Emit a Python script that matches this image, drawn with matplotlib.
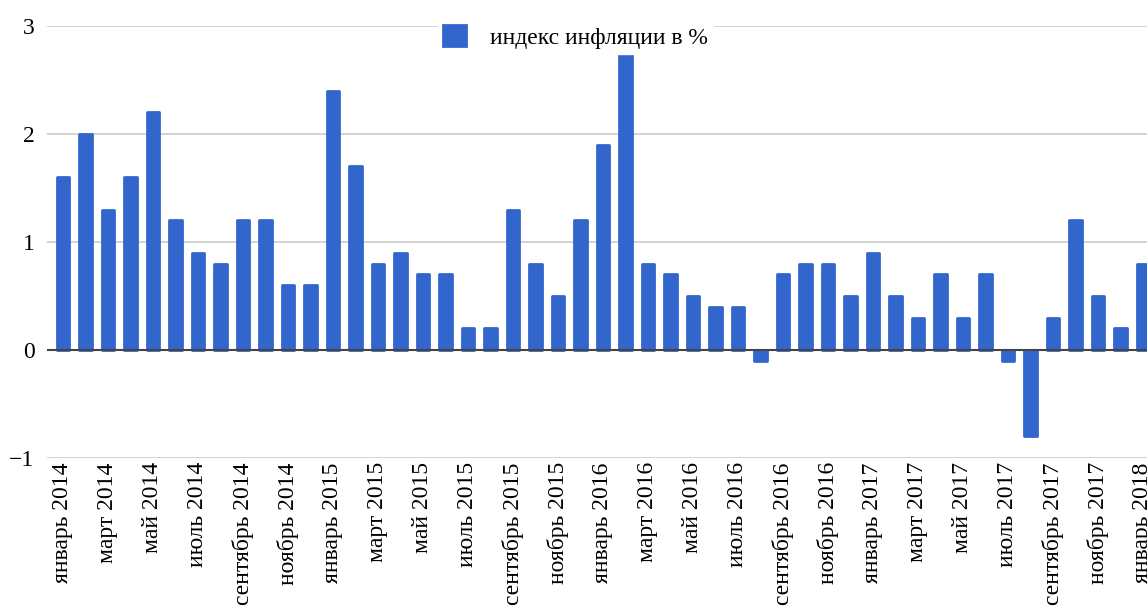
import numpy as np
import matplotlib
matplotlib.use("Agg")
import matplotlib.pyplot as plt

plt.rcParams['font.family'] = ['Liberation Serif', 'DejaVu Serif']

months = ["январь", "февраль", "март", "апрель", "май", "июнь",
          "июль", "август", "сентябрь", "октябрь", "ноябрь", "декабрь"]
years = [2014, 2015, 2016, 2017, 2018]
labels = [m + " " + str(y) for y in years for m in months][:49]

inflation = [1.6, 2.0, 1.3, 1.6, 2.2, 1.2, 0.9, 0.8, 1.2, 1.2, 0.6, 0.6,
             2.4, 1.7, 0.8, 0.9, 0.7, 0.7, 0.2, 0.2, 1.3, 0.8, 0.5, 1.2,
             1.9, 3.1, 0.8, 0.7, 0.5, 0.4, 0.4, -0.1, 0.7, 0.8, 0.8, 0.5,
             0.9, 0.5, 0.3, 0.7, 0.3, 0.7, -0.1, -0.8, 0.3, 1.2, 0.5, 0.2,
             0.8]

blue = '#3366cc'
fs = 17

fig = plt.figure(figsize=(11.47, 6.1), dpi=100)
ax = fig.add_axes([47/1147, 1 - 458/610, 1 - 47/1147, (458 - 26)/610])

x = np.arange(len(inflation))
bars = ax.bar(x, inflation, width=0.55, color=blue, edgecolor=blue,
              linewidth=2, label='индекс инфляции в %', zorder=2)
for b in bars:
    b.set_joinstyle('round')

ax.set_xlim(-0.71, 48.18)
ax.set_ylim(-1, 3)
ax.set_yticks([-1, 0, 1, 2, 3])
ax.set_yticklabels(['\u22121', '0', '1', '2', '3'])
ax.grid(axis='y', color='#cccccc', linewidth=1.2, zorder=0)
ax.axhline(0, color='#444444', linewidth=1.5, zorder=3)

ax.set_xticks(x[::2])
ax.set_xticklabels(labels[::2], rotation=90, va='top', ha='center')
ax.tick_params(axis='x', length=0, pad=3, labelsize=fs)
ax.tick_params(axis='y', length=0, pad=9, labelsize=fs)
for s in ax.spines.values():
    s.set_visible(False)

leg = fig.legend(loc='center left', bbox_to_anchor=(438/1147, 1 - 37/610),
                 bbox_transform=fig.transFigure, fontsize=fs, frameon=True,
                 facecolor='white', edgecolor='white', framealpha=1,
                 handlelength=1.0, handleheight=1.0, handletextpad=1.0,
                 borderpad=0.2, borderaxespad=0, fancybox=False)

fig.savefig('out.png', dpi=100)
